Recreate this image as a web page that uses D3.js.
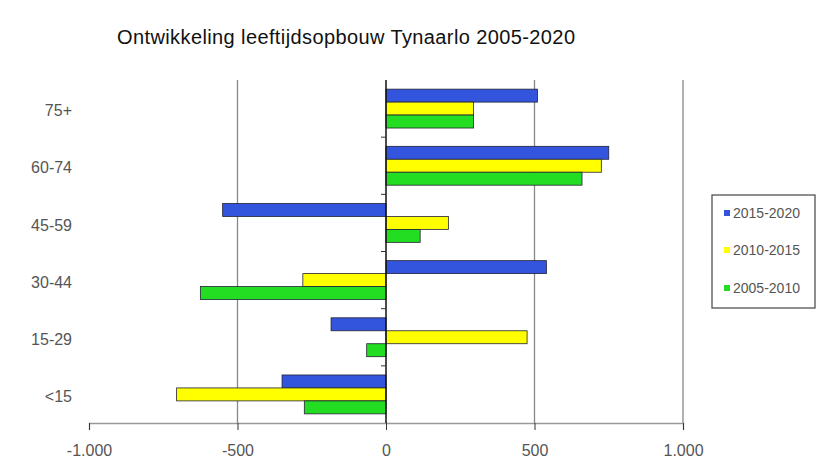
<!DOCTYPE html>
<html>
<head>
<meta charset="utf-8">
<script src="https://cdn.jsdelivr.net/npm/d3@7"></script>
<style>
  body { margin: 0; background: #fff; }
  text { font-family: "Liberation Sans", Arial, sans-serif; }
</style>
</head>
<body>
<svg id="chart" width="817" height="460"></svg>
<script>
// age groups, top to bottom
const categories = ["75+", "60-74", "45-59", "30-44", "15-29", "<15"];
const seriesNames = ["2015-2020", "2010-2015", "2005-2010"];
const s2015 = [510, 750, -550, 540, -185, -350];
const s2010 = [295, 725, 210, -280, 475, -705];
const s2005 = [295, 660, 115, -625, -65, -275];
const xTicks = [-1000, -500, 0, 500, 1000];
const xTickLabels = ["-1.000", "-500", "0", "500", "1.000"];
const colors = ["#3355dd", "#ffff00", "#22dd22"];

const series = [s2015, s2010, s2005];

const svg = d3.select("#chart");
const plotLeft = 89, plotRight = 683, plotTop = 80, plotBottom = 423;

let x = d3.scaleLinear().domain([-1000, 1000]).range([plotLeft, plotRight]);
let y = d3.scaleBand().domain(categories).range([plotTop, plotBottom]).paddingInner(0.32).paddingOuter(0.16);
let inner = d3.scaleBand().domain(seriesNames).range([0, y.bandwidth()]);

// title
svg.append("text")
    .attr("x", 117)
    .attr("y", 44)
    .attr("font-size", 20)
    .attr("fill", "#111")
    .attr("textLength", 458)
    .attr("lengthAdjust", "spacing")
    .text("Ontwikkeling leeftijdsopbouw Tynaarlo 2005-2020");

// vertical gridlines
svg.append("g")
    .selectAll("line")
    .data(xTicks.filter(d => d !== 0 && d !== -1000))
    .enter().append("line")
    .attr("x1", d => x(d)).attr("x2", d => x(d))
    .attr("y1", plotTop).attr("y2", plotBottom)
    .attr("stroke", "#888")
    .attr("stroke-width", 1.3);

// bottom axis
let xAxis = svg.append("g")
    .attr("transform", "translate(0," + plotBottom + ")")
    .call(d3.axisBottom(x).tickValues(xTicks).tickSize(7).tickFormat((d, i) => xTickLabels[i]));
xAxis.select(".domain").attr("stroke", "#999").attr("stroke-width", 1.3);
xAxis.selectAll(".tick line").attr("stroke", "#333");
xAxis.selectAll("text")
    .attr("font-size", 16)
    .attr("fill", "#555")
    .attr("y", 33)
    .attr("dy", 0);

// bars
series.forEach(function(vals, si) {
    svg.append("g")
        .selectAll("rect")
        .data(vals)
        .enter().append("rect")
        .attr("x", d => x(Math.min(0, d)))
        .attr("y", (d, i) => y(categories[i]) + inner(seriesNames[si]))
        .attr("width", d => Math.abs(x(d) - x(0)))
        .attr("height", inner.bandwidth())
        .attr("fill", colors[si])
        .attr("stroke", "#223")
        .attr("stroke-width", 0.8);
});

// category axis at zero
let yAxis = svg.append("g")
    .attr("transform", "translate(" + x(0) + ",0)");
yAxis.append("line")
    .attr("x1", 0).attr("x2", 0)
    .attr("y1", plotTop).attr("y2", plotBottom)
    .attr("stroke", "#111")
    .attr("stroke-width", 1.5);
let bounds = categories.slice(1).map(c => y(c) - y.step() * y.paddingInner() / 2);
yAxis.selectAll(".cat-tick")
    .data(bounds)
    .enter().append("line")
    .attr("class", "cat-tick")
    .attr("x1", -5).attr("x2", 0)
    .attr("y1", d => d).attr("y2", d => d)
    .attr("stroke", "#333");

// category labels on the left
svg.append("g")
    .selectAll("text")
    .data(categories)
    .enter().append("text")
    .attr("x", 72)
    .attr("y", d => y(d) + y.bandwidth() / 2 + 2)
    .attr("dy", "0.35em")
    .attr("text-anchor", "end")
    .attr("font-size", 16)
    .attr("fill", "#555")
    .text(d => d);

// legend
let legend = svg.append("g");
legend.append("rect")
    .attr("x", 712).attr("y", 195)
    .attr("width", 103).attr("height", 113)
    .attr("fill", "none")
    .attr("stroke", "#444")
    .attr("stroke-width", 1.2);
let items = legend.selectAll(".item")
    .data(seriesNames)
    .enter().append("g")
    .attr("class", "item")
    .attr("transform", (d, i) => "translate(724," + [213, 250, 288][i] + ")");
items.append("rect")
    .attr("x", 0).attr("y", -3)
    .attr("width", 6).attr("height", 6)
    .attr("fill", (d, i) => colors[i]);
items.append("text")
    .attr("x", 9)
    .attr("dy", "0.35em")
    .attr("font-size", 14)
    .attr("fill", "#555")
    .text(d => d);
</script>
</body>
</html>
